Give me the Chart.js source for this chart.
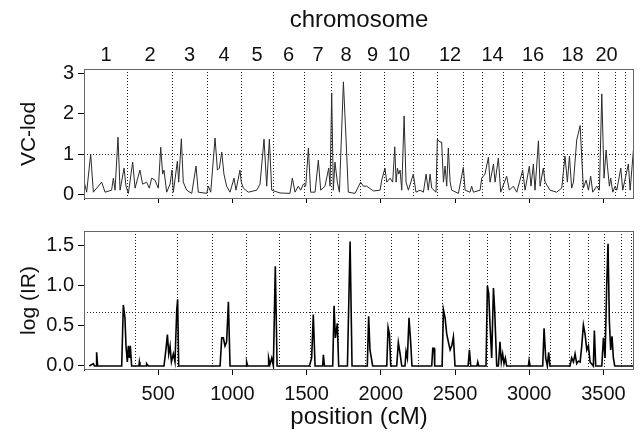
<!DOCTYPE html>
<html>
<head>
<meta charset="utf-8">
<script src="https://cdn.jsdelivr.net/npm/chart.js@4.4.1/dist/chart.umd.min.js"></script>
<style>
  body { margin: 0; background: #fff; }
  #wrap { position: relative; width: 643px; height: 438px; }
  canvas { position: absolute; left: 0; }
</style>
</head>
<body>
<div id="wrap">
  <canvas id="lod" width="643" height="215" style="top:0"></canvas>
  <canvas id="ir" width="643" height="223" style="top:215px"></canvas>
</div>
<script>
'use strict';

// genome position (cM) range and bottom tick marks
const X_MAX = 3706;
const posTicks = [500, 1000, 1500, 2000, 2500, 3000, 3500];

// chromosome boundaries (cM) as drawn in each panel
const lodBounds = [296, 593, 829, 1058, 1274, 1483, 1671, 1860, 2028, 2217, 2379,
                   2554, 2682, 2824, 2952, 3100, 3228, 3356, 3464, 3578, 3646];
const irBounds  = [344, 633, 869, 1098, 1314, 1523, 1712, 1900, 2069, 2251, 2419,
                   2595, 2716, 2871, 2999, 3140, 3269, 3397, 3504, 3619, 3687];
const chrLabels = ['1','2','3','4','5','6','7','8','9','10','','12','','14','','16','','18','','20','',''];

// VC-lod trace
const lodPos = [2,18,45,63,119,142,186,198,209,229,243,270,283,299,328,344,377,395,422,440,
  456,478,501,517,530,539,557,580,593,602,629,638,656,669,692,726,755,770,827,838,854,883,
  899,912,928,943,961,984,1011,1024,1051,1060,1074,1107,1164,1186,1213,1231,1249,1265,1321,
  1388,1404,1422,1444,1460,1478,1494,1512,1527,1557,1579,1595,1624,1649,1658,1669,1680,1691,
  1707,1721,1748,1766,1781,1826,1864,1882,1905,1950,1995,2006,2028,2040,2062,2080,2094,2103,
  2112,2121,2130,2141,2157,2170,2186,2219,2237,2264,2287,2305,2320,2332,2343,2372,2381,2399,
  2410,2422,2433,2444,2455,2467,2478,2523,2556,2568,2601,2612,2624,2669,2680,2702,2725,2736,
  2759,2770,2792,2808,2848,2866,2893,2916,2956,2972,3001,3012,3028,3039,3062,3073,3095,3107,
  3140,3185,3219,3241,3257,3271,3286,3298,3320,3343,3354,3365,3383,3399,3414,3428,3455,3473,
  3489,3504,3518,3527,3540,3549,3563,3579,3590,3617,3630,3668,3680,3702];
const lodVal = [0.3,0.05,1.0,0.05,0.3,0.05,0.1,0.4,0.1,1.42,0.1,0.65,0.2,0.02,0.8,0.15,0.6,0.25,0.3,0.15,
  0.4,0.35,0.15,1.17,0.5,0.6,0.05,0.25,0.6,0.05,0.82,0.3,1.38,0.3,0.1,0.02,0.7,0.05,0.02,0.2,0.05,1.4,
  0.6,0.65,1.05,0.5,0.2,0.05,0.4,0.1,0.6,0.3,0.15,0.05,0.1,0.25,1.37,0.2,1.37,0.1,0.03,
  0.02,0.4,0.05,0.2,0.1,0.25,0.2,1.15,0.05,0.05,0.85,0.1,0.2,0.65,0.2,2.52,0.1,0.8,
  0.3,0.05,2.8,1.35,0.05,0.02,0.3,0.2,0.2,0.08,0.1,0.35,0.65,0.3,0.4,0.3,1.18,0.3,
  0.65,0.5,0.6,0.1,1.95,0.3,0.1,0.5,0.05,0.1,0.05,0.5,0.1,0.5,0.15,0.05,1.37,1.3,
  1.3,0.3,0.7,0.2,1.15,0.3,0.1,0.02,0.67,0.1,0.05,0.2,0.05,0.1,0.4,0.5,0.92,0.3,
  0.75,0.3,0.9,0.05,0.45,0.1,0.2,0.05,0.6,0.1,0.7,0.2,0.75,0.1,1.33,0.2,0.65,0.3,
  0.1,0.05,0.15,0.95,0.3,0.95,0.15,0.3,1.35,1.71,0.9,0.15,0.35,0.1,0.45,0.05,0.2,0.1,
  2.5,0.4,1.1,0.7,0.2,0.4,0.05,0.2,0.1,0.65,0.1,0.75,0.1,1.1];

// log (IR) trace
const irPos = [36,63,70,81,85,92,254,265,276,283,292,299,306,312,321,370,373,377,420,422,434,
  539,553,562,571,580,589,602,613,625,631,638,917,928,939,950,961,973,984,1092,1096,1103,
  1240,1244,1253,1265,1276,1289,1301,1519,1534,1545,1557,1608,1613,1620,1676,1685,1694,1707,
  1716,1775,1793,1806,1909,1918,1927,1936,1945,2040,2049,2058,2067,2107,2118,2130,2141,2163,
  2170,2179,2190,2201,2210,2343,2350,2359,2363,2413,2422,2433,2444,2455,2467,2478,2489,2500,
  2588,2597,2606,2648,2653,2660,2709,2718,2727,2736,2747,2759,2767,2781,2792,2803,2812,2821,
  2830,2839,2848,2994,2999,3006,3091,3100,3111,3122,3131,3140,3275,3286,3298,3309,3320,3331,
  3343,3354,3365,3376,3388,3399,3410,3432,3439,3448,3489,3500,3511,3522,3531,3540,3549,3558,
  3567,3576,3700];
const irVal = [0,0.03,0,0,0.17,0,0,0.76,0.6,0.25,0.05,0.25,0.1,0.25,0,0,0.05,0,0,0.03,0,
  0,0.22,0.39,0.15,0.25,0.05,0.15,0.05,0.7,0.83,0,0,0.35,0.35,0.25,0.3,0.8,0,0,0.05,0,
  0,0.1,0.02,0.1,0,1.24,0,0,0.1,0.64,0,0,0.14,0,0,0.75,0.35,0.53,
  0,0,1.55,0,0,0.62,0.2,0.1,0,0,0.48,0.4,0,0,0.29,0.15,0,0,
  0.18,0.1,0.6,0.3,0,0,0.22,0.22,0,0,0.7,0.6,0.4,0.3,0.2,0.25,0.36,0,
  0,0.2,0,0,0.05,0,0,1.0,0.9,0.5,0.1,0.97,0.7,0,0,0.3,0.05,0.15,
  0.03,0.1,0,0,0.07,0,0,0.47,0.1,0,0.17,0,0,0.1,0.05,0.15,0.03,0.06,
  0.05,0.25,0.51,0.4,0.2,0.25,0.05,0,0.44,0,0,0.35,0.1,1.0,1.52,0.55,0.2,0.37,
  0.1,0,0];

const lodTicks = [0, 1, 2, 3];
const irTicks = [0, 0.5, 1.0, 1.5];
const LOD_THR = 1;
const IR_THR = 0.67;

const FONT = 'Arial, "Liberation Sans", Helvetica, sans-serif';
Chart.defaults.font.family = FONT;
Chart.defaults.color = '#111';

const setTicks = vals => s => { s.ticks = vals.map(v => ({ value: v })); };
const mids = b => {
  const e = [0, ...b, X_MAX];
  return e.slice(1).map((v, i) => (v + e[i]) / 2);
};
const pts = (xs, ys) => xs.map((x, i) => ({ x, y: ys[i] }));

const frame = {
  id: 'frame',
  afterDatasetsDraw(chart) {
    const { ctx, chartArea: a } = chart;
    ctx.save();
    ctx.strokeStyle = '#666';
    ctx.lineWidth = 1;
    ctx.strokeRect(a.left + 0.5, a.top + 0.5, a.width - 1, a.height - 1);
    ctx.restore();
  }
};

function dotted(bounds, pos) {
  return {
    type: 'linear', position: pos, min: 0, max: X_MAX,
    afterBuildTicks: setTicks(bounds),
    ticks: { display: false },
    grid: { color: '#222', drawTicks: false },
    border: { display: false, dash: [1, 2] },
    afterFit: s => { s.height = 0; }
  };
}

function thrAxis(min, max, v) {
  return {
    type: 'linear', position: 'left', min, max,
    afterBuildTicks: setTicks([v]),
    ticks: { display: false },
    grid: { color: '#222', drawTicks: false },
    border: { display: false, dash: [1, 2] },
    afterFit: s => { s.width = 0; }
  };
}

function yAxis(min, max, ticks, title, fmt) {
  return {
    type: 'linear', position: 'left', min, max,
    afterBuildTicks: setTicks(ticks),
    ticks: { padding: 4, font: { size: 20 }, callback: fmt },
    grid: { drawOnChartArea: false, tickLength: 6, tickColor: '#000' },
    border: { color: '#000' },
    title: { display: true, text: title, font: { size: 21 }, padding: { top: 17, bottom: 0 } },
    afterFit: s => { s.width = 84; }
  };
}

const base = {
  responsive: false,
  animation: false,
  devicePixelRatio: 1,
  layout: { padding: { left: 0, right: 9, top: 0, bottom: 0 } },
  plugins: { legend: { display: false }, tooltip: { enabled: false } }
};

new Chart(document.getElementById('lod'), {
  type: 'line',
  data: { datasets: [{
    data: pts(lodPos, lodVal), borderColor: '#2a2a2a', borderWidth: 1,
    pointRadius: 0, tension: 0
  }] },
  options: { ...base, scales: {
    x: {
      type: 'linear', position: 'bottom', min: 0, max: X_MAX,
      afterBuildTicks: setTicks(posTicks),
      ticks: { display: false },
      grid: { drawOnChartArea: false, tickLength: 4, tickColor: '#000' },
      border: { display: false },
      afterFit: s => { s.height = 13; }
    },
    chr: {
      type: 'linear', position: 'top', min: 0, max: X_MAX,
      afterBuildTicks: setTicks(mids(lodBounds)),
      ticks: { autoSkip: false, maxRotation: 0, padding: 2, font: { size: 20 },
               callback: (v, i) => chrLabels[i] },
      grid: { display: false, drawTicks: false },
      border: { display: false },
      title: { display: true, text: 'chromosome', font: { size: 24 }, padding: { top: 6, bottom: 0 } },
      afterFit: s => { s.height = 69; }
    },
    bnd: dotted(lodBounds, 'top'),
    y: yAxis(-0.12, 3.12, lodTicks, 'VC-lod', v => v),
    thr: thrAxis(-0.12, 3.12, LOD_THR)
  } },
  plugins: [frame]
});

new Chart(document.getElementById('ir'), {
  type: 'line',
  data: { datasets: [{
    data: pts(irPos, irVal), borderColor: '#000', borderWidth: 1.6,
    pointRadius: 0, tension: 0
  }] },
  options: { ...base, layout: { padding: { left: 0, right: 9, top: 12, bottom: 0 } }, scales: {
    x: {
      type: 'linear', position: 'bottom', min: 0, max: X_MAX,
      afterBuildTicks: setTicks(posTicks),
      ticks: { padding: 7, font: { size: 20 }, maxRotation: 0, autoSkip: false, callback: v => String(v) },
      grid: { drawOnChartArea: false, tickLength: 5, tickColor: '#000' },
      border: { display: false },
      title: { display: true, text: 'position (cM)', font: { size: 24 }, padding: { top: 0, bottom: 6 } },
      afterFit: s => { s.height = 68; }
    },
    bnd: dotted(irBounds, 'top'),
    y: yAxis(-0.05, 1.68, irTicks, 'log (IR)', v => v.toFixed(1)),
    thr: thrAxis(-0.05, 1.68, IR_THR)
  } },
  plugins: [frame]
});
</script>
</body>
</html>
